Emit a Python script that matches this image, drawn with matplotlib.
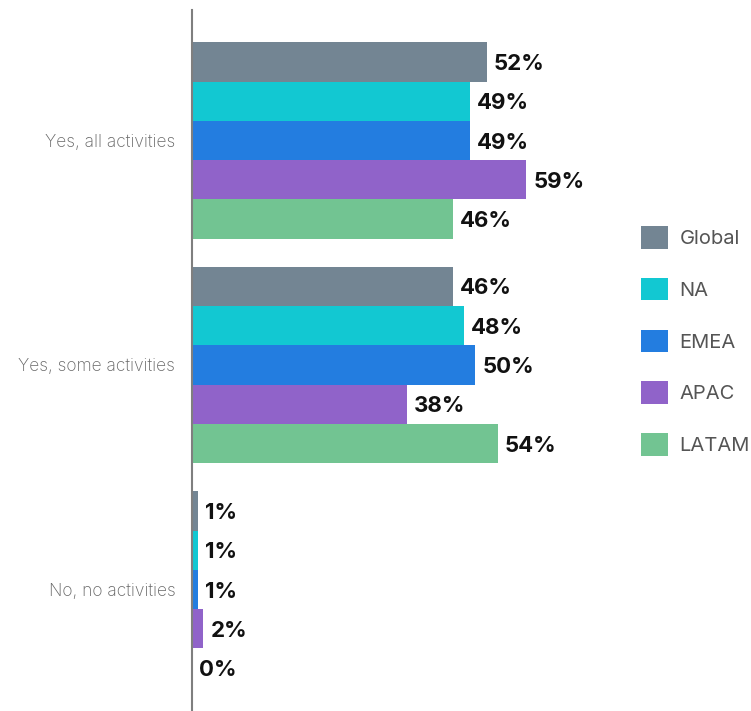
import matplotlib.pyplot as plt
import numpy as np
from matplotlib.patches import Patch

plt.rcParams["font.family"] = ["Inter", "DejaVu Sans"]

categories = ["Yes, all activities", "Yes, some activities", "No, no activities"]
regions = ["Global", "NA", "EMEA", "APAC", "LATAM"]
values = {
    "Global": [52, 46, 1],
    "NA": [49, 48, 1],
    "EMEA": [49, 50, 1],
    "APAC": [59, 38, 2],
    "LATAM": [46, 54, 0],
}
colors = ["#738593", "#12C8D2", "#237DE0", "#9063C9", "#72C492"]

W, H = 751, 711
fig = plt.figure(figsize=(W / 100, H / 100), dpi=100)
# axes left edge sits on the vertical axis line; 1% ~ 5.67 px
ax = fig.add_axes([192 / W, 0, 340 / W, 701 / H])

bar_h = 0.175
y0 = np.arange(len(categories))
n = len(regions)
for i, (reg, col) in enumerate(zip(regions, colors)):
    ys = y0 + (i - (n - 1) / 2) * bar_h
    vals = values[reg]
    ax.barh(ys, vals, height=bar_h, color=col, edgecolor="none")
    for y, v in zip(ys, vals):
        ax.annotate(f"{v}%", (v, y), xytext=(5, -1.5), textcoords="offset points",
                    ha="left", va="center", fontsize=16, fontweight="bold",
                    color="#111111")

ax.set_xlim(0, 60)
ax.set_ylim(2.541, -0.581)
ax.set_yticks(y0)
ax.set_yticklabels(categories, fontsize=12.5, color="#666666", fontweight="light")
ax.tick_params(axis="y", length=0, pad=12)
ax.set_xticks([])
for s in ["top", "right", "bottom"]:
    ax.spines[s].set_visible(False)
ax.spines["left"].set_color("#7f7f7f")
ax.spines["left"].set_linewidth(1.5)

handles = [Patch(facecolor=c, edgecolor="none") for c in colors]
fig.legend(handles, regions, loc="upper left", bbox_to_anchor=(641 / W, 1 - 226 / H),
           frameon=False, fontsize=14.5, handlelength=1.35, handleheight=1.35,
           labelspacing=1.45, handletextpad=0.55, borderpad=0, borderaxespad=0,
           labelcolor="#555555")

fig.savefig("out.png", dpi=100)
